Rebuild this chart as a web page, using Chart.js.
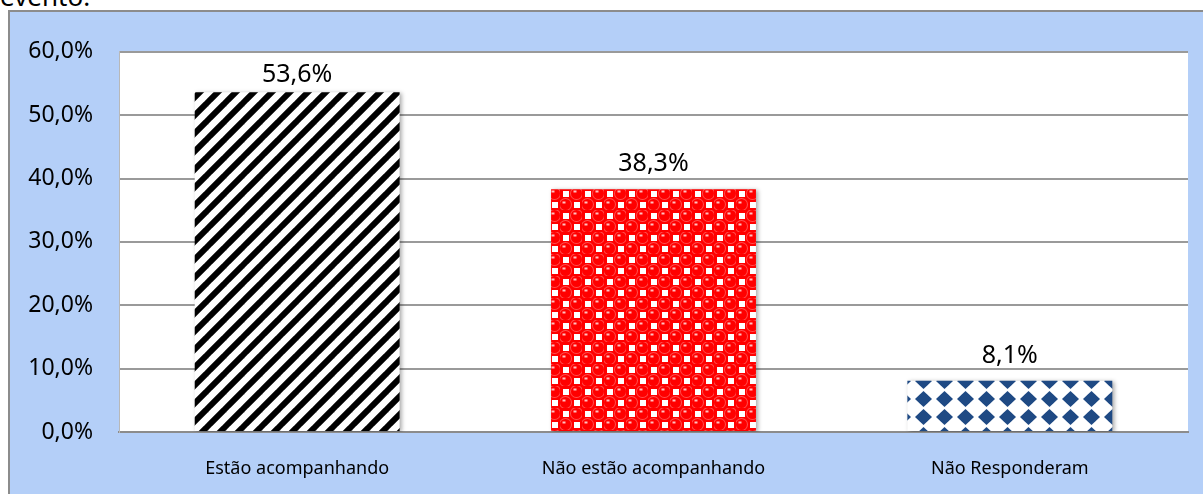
<!DOCTYPE html>
<html>
<head>
<meta charset="utf-8">
<script src="https://cdn.jsdelivr.net/npm/chart.js@4/dist/chart.umd.min.js"></script>
<style>
  body { margin: 0; background: #fff; width: 1203px; height: 494px; overflow: hidden; position: relative; font-family: "Noto Sans", sans-serif; }
  #caption { position: absolute; left: 0; top: -22px; font-size: 26px; color: #000; }
  #box { position: absolute; left: 8px; top: 10px; width: 1195px; height: 484px; background: #b4cff8;
         border-top: 2px solid #8c8c8c; border-left: 2px solid #8c8c8c; }
  #wrap { position: absolute; left: 0; top: 0; width: 1193px; height: 482px; }
</style>
</head>
<body>
<div id="caption">evento.</div>
<div id="box"><div id="wrap"><canvas id="barChart"></canvas></div></div>

<script>
// data
const categories = ["Estão acompanhando", "Não estão acompanhando", "Não Responderam"];
const percentages = [53.6, 38.3, 8.1];
const tickValues = [0, 10, 20, 30, 40, 50, 60];

function fmt(v) {
    return v.toFixed(1).replace(".", ",") + "%";
}

// hatch patterns like the Excel fills
function stripePattern() {
    const c = document.createElement("canvas");
    c.width = 18; c.height = 18;
    const g = c.getContext("2d");
    g.fillStyle = "#fff";
    g.fillRect(0, 0, 18, 18);
    g.strokeStyle = "#000";
    g.lineWidth = 6;
    for (let k = -1; k <= 1; k++) {
        g.beginPath();
        g.moveTo(k * 18 - 2, 20);
        g.lineTo(k * 18 + 20, -2);
        g.stroke();
    }
    return g.createPattern(c, "repeat");
}

function spherePattern() {
    const c = document.createElement("canvas");
    c.width = 22; c.height = 22;
    const g = c.getContext("2d");
    g.fillStyle = "#ff0000";
    g.fillRect(0, 0, 22, 22);
    g.fillStyle = "#fff";
    g.fillRect(3, 3, 6, 6);
    g.fillRect(14, 14, 6, 6);
    [[16.5, 5.5], [5.5, 16.5]].forEach(p => {
        g.fillStyle = "#ff5050";
        g.beginPath();
        g.arc(p[0], p[1], 6.5, 0, Math.PI * 2);
        g.fill();
        g.fillStyle = "#ff0000";
        g.beginPath();
        g.arc(p[0], p[1], 5.5, 0, Math.PI * 2);
        g.fill();
        g.fillStyle = "#ffc0c0";
        g.fillRect(p[0] - 3, p[1] - 3, 3, 2);
    });
    return g.createPattern(c, "repeat");
}

function diamondPattern() {
    const w = 21, h = 18;
    const c = document.createElement("canvas");
    c.width = w; c.height = h;
    const g = c.getContext("2d");
    g.fillStyle = "#fff";
    g.fillRect(0, 0, w, h);
    g.fillStyle = "#1f4a84";
    const p = [w / 2, h / 2];
    g.beginPath();
    g.moveTo(p[0], p[1] - 8);
    g.lineTo(p[0] + 8.5, p[1]);
    g.lineTo(p[0], p[1] + 8);
    g.lineTo(p[0] - 8.5, p[1]);
    g.closePath();
    g.fill();
    g.beginPath();
    g.arc(p[0], p[1], 5.5, 0, Math.PI * 2);
    g.fill();
    return g.createPattern(c, "repeat");
}

const fills = [stripePattern(), spherePattern(), diamondPattern()];

// white plot area inside the blue frame
const plotBackground = {
    id: "plotBackground",
    beforeDraw(chart) {
        const a = chart.chartArea;
        const ctx = chart.ctx;
        ctx.save();
        ctx.fillStyle = "#fff";
        ctx.fillRect(a.left, a.top, a.right - a.left, a.bottom - a.top);
        ctx.restore();
    }
};

// bar shadow + value labels above the bars
const barExtras = {
    id: "barExtras",
    beforeDatasetsDraw(chart) {
        const ctx = chart.ctx;
        ctx.save();
        ctx.shadowColor = "rgba(0,0,0,0.35)";
        ctx.shadowBlur = 4;
        ctx.shadowOffsetX = 2;
        ctx.shadowOffsetY = 1;
    },
    afterDatasetsDraw(chart) {
        const ctx = chart.ctx;
        ctx.restore();
        const meta = chart.getDatasetMeta(0);
        ctx.save();
        ctx.font = "25px 'Noto Sans'";
        ctx.fillStyle = "#000";
        ctx.textAlign = "center";
        ctx.textBaseline = "alphabetic";
        meta.data.forEach((bar, i) => {
            const y = Math.max(bar.y - 18, chart.chartArea.top + 30);
            ctx.fillText(fmt(percentages[i]), bar.x, y);
        });
        ctx.restore();
    }
};

const ctx = document.getElementById("barChart").getContext("2d");
new Chart(ctx, {
    type: "bar",
    data: {
        labels: categories,
        datasets: [{
            data: percentages,
            backgroundColor: fills,
            borderWidth: 0,
            categoryPercentage: 1,
            barPercentage: 0.575
        }]
    },
    options: {
        responsive: true,
        maintainAspectRatio: false,
        animation: false,
        layout: { padding: { top: 36, right: 15, left: 0, bottom: 0 } },
        plugins: {
            legend: { display: false },
            tooltip: { enabled: false }
        },
        scales: {
            x: {
                grid: { display: false },
                border: { color: "#8c8c8c", width: 2 },
                ticks: { color: "#000", font: { family: "Noto Sans", size: 18 }, padding: 18, maxRotation: 0 },
                afterFit(s) { s.height = 62; }
            },
            y: {
                min: 0,
                max: 60,
                afterBuildTicks(s) { s.ticks = tickValues.map(v => ({ value: v })); },
                grid: { color: "#9a9a9a", lineWidth: 2, drawTicks: false },
                border: { color: "#b8b8b8", width: 1 },
                ticks: {
                    color: "#000",
                    font: { family: "Noto Sans", size: 23 },
                    padding: 26,
                    callback: v => fmt(v)
                },
                afterFit(s) { s.width = 109; }
            }
        }
    },
    plugins: [plotBackground, barExtras]
});
</script>
</body>
</html>
